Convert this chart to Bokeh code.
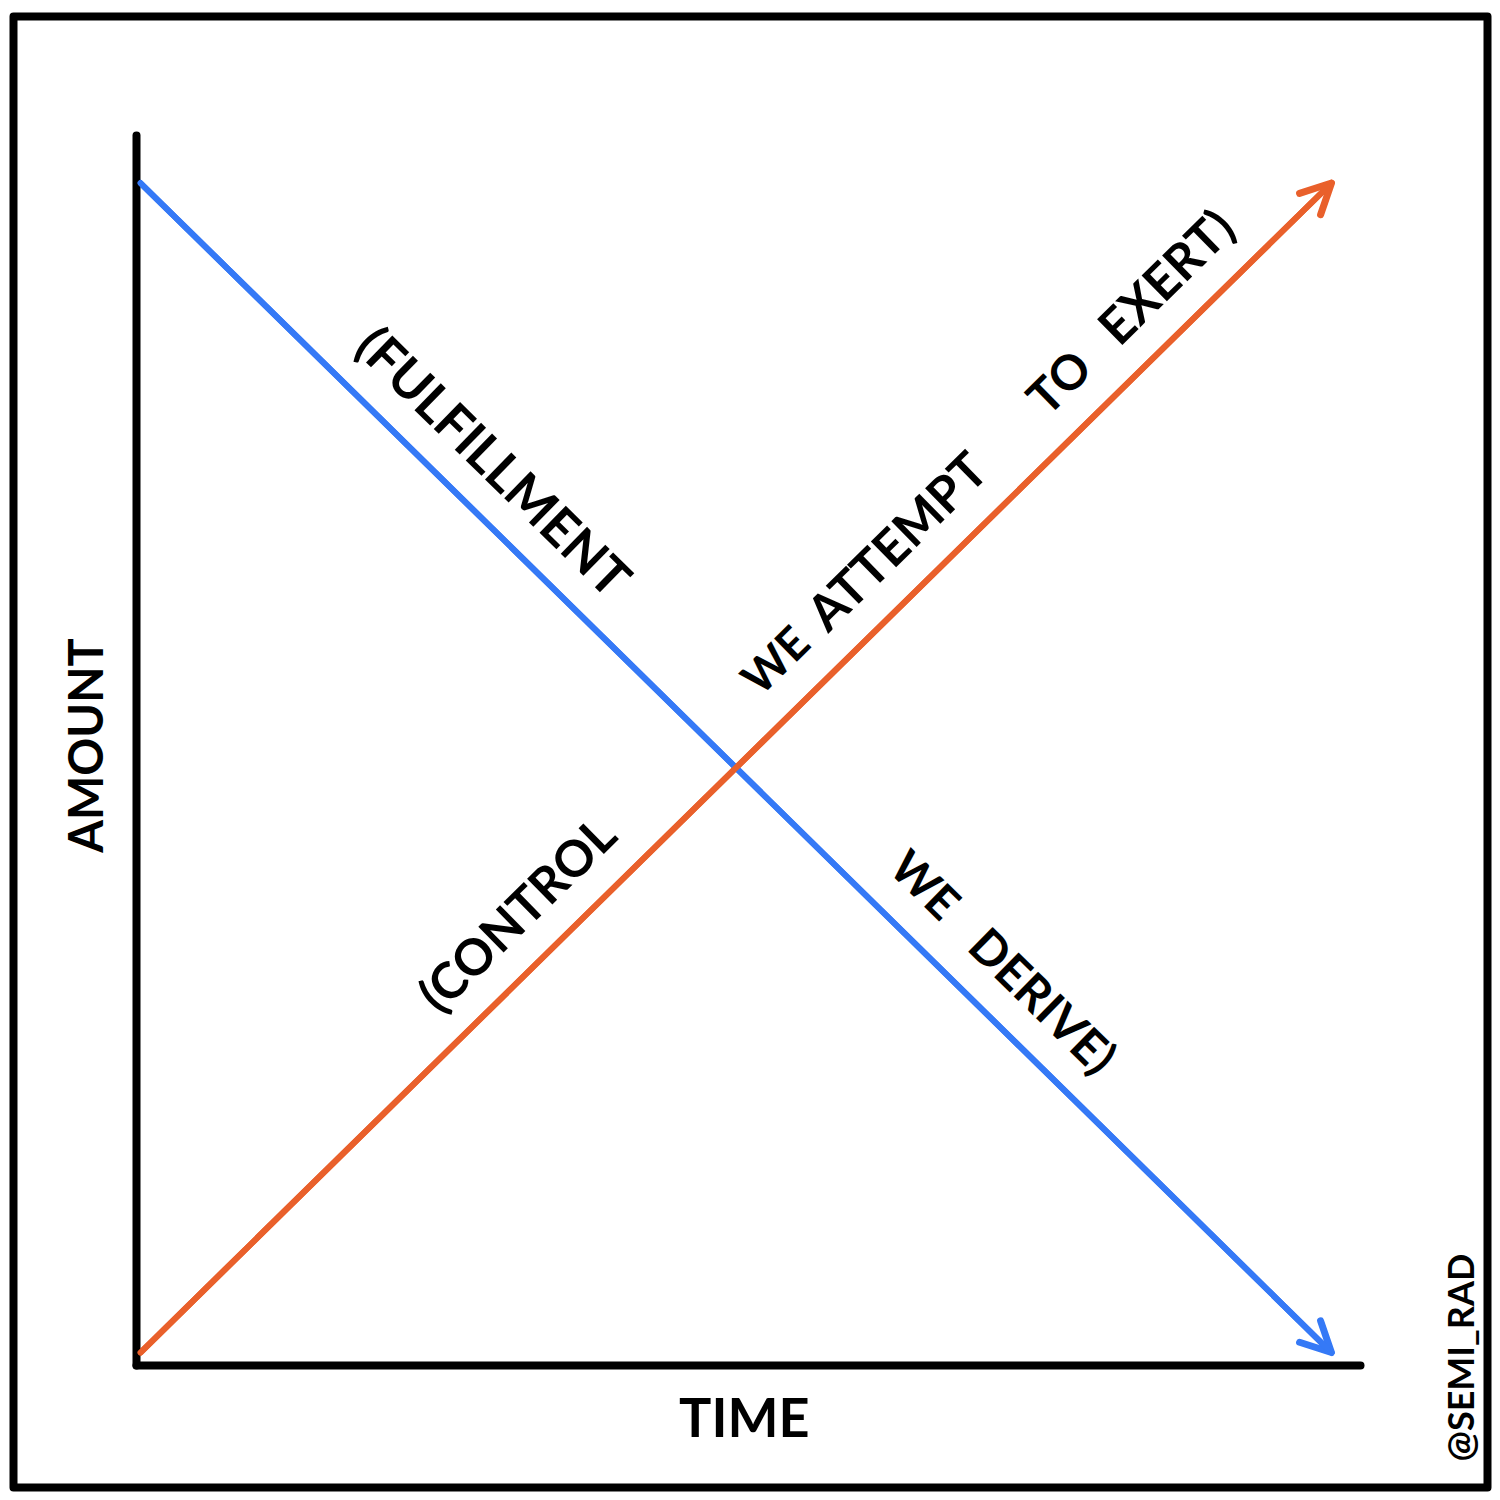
import numpy as np
from bokeh.plotting import figure
from bokeh.models import (LinearAxis, FixedTicker, Arrow, OpenHead, Label,
                          ColumnDataSource, Range1d)
from bokeh.core.properties import value
from bokeh.embed import file_html
from bokeh.resources import INLINE

# ---- data -------------------------------------------------------------
time = [0, 10]
fulfillment = [10, 0]
control = [0, 10]

blue_words = ["(FULFILLMENT", "WE", "DERIVE)"]
blue_word_pos = [0.268, 0.630, 0.729]          # fraction along the line (word centre)
orange_words = ["(CONTROL", "WE", "ATTEMPT", "TO", "EXERT)"]
orange_word_pos = [0.345, 0.562, 0.664, 0.800, 0.890]

y_label = "AMOUNT"
x_label = "TIME"
credit = "@SEMI_RAD"

# ---- style / layout ---------------------------------------------------
BLUE = "#3579F6"
ORANGE = "#E9602B"
FONT = "Lato"
blue_word_size = ["52px", "46px", "48px"]
orange_word_size = ["50px", "45px", "50px", "48px", "50px"]
W = H = 1492
BL, BR, BT, BB = 13, 5, 16, 5
XR = (-1.066, 11.310)
YR = (-1.154, 11.424)
SX = (W - BL - BR) / (XR[1] - XR[0])
SY = (H - BT - BB) / (YR[1] - YR[0])

p = figure(width=W, height=H, x_range=Range1d(*XR), y_range=Range1d(*YR),
           output_backend="svg", toolbar_location=None,
           x_axis_location=None, y_axis_location=None,
           min_border_left=BL, min_border_right=BR,
           min_border_top=BT, min_border_bottom=BB)
p.grid.grid_line_color = None
p.outline_line_color = "black"
p.outline_line_width = 8
p.outline_line_join = "round"
p.background_fill_color = "white"
p.border_fill_color = "white"

def make_axis(loc, bounds):
    return LinearAxis(fixed_location=loc, bounds=bounds,
                      ticker=FixedTicker(ticks=[]),
                      axis_line_color="black", axis_line_width=8,
                      axis_line_cap="round",
                      major_tick_line_color=None, minor_tick_line_color=None,
                      major_tick_out=0, major_tick_in=0,
                      major_label_text_font_size="0px",
                      major_label_standoff=0)

p.add_layout(make_axis(-0.034, (-0.11, 10.41)), "left")
p.add_layout(make_axis(-0.111, (-0.034, 10.243)), "below")

def draw_series(ys, color, words, pos, sizes):
    p.line(time, ys, line_color=color, line_width=6, line_cap="round")
    p.add_layout(Arrow(x_start=time[-2], y_start=ys[-2], x_end=time[-1], y_end=ys[-1],
                       line_color=color, line_width=6, line_cap="round",
                       end=OpenHead(size=30, line_color=color, line_width=7,
                                    line_cap="round", line_join="round")))
    dx = (time[-1] - time[0]) * SX
    dy = (ys[-1] - ys[0]) * SY
    L = np.hypot(dx, dy)
    ux, uy = dx / L, dy / L
    nx, ny = -uy, ux
    ang = np.arctan2(uy, ux)
    off = 50
    xs = [time[0] + f * (time[-1] - time[0]) + nx * off / SX for f in pos]
    yv = [ys[0] + f * (ys[-1] - ys[0]) + ny * off / SY for f in pos]
    src = ColumnDataSource(dict(x=xs, y=yv, text=words, size=sizes))
    p.text("x", "y", text="text", source=src, angle=ang,
           text_font=value(FONT), text_font_style="bold",
           text_font_size="size", text_color="black",
           text_align="center", text_baseline="middle")

draw_series(fulfillment, BLUE, blue_words, blue_word_pos, blue_word_size)
draw_series(control, ORANGE, orange_words, orange_word_pos, orange_word_size)

def add_label(x, y, text, size, angle=0):
    p.add_layout(Label(x=x, y=y, text=text, angle=angle, angle_units="deg",
                       text_font=FONT, text_font_style="bold", text_font_size=size,
                       text_align="center", text_baseline="middle", text_color="black"))

add_label(-0.462, 5.19, y_label, "47px", 90)
add_label(5.07, -0.547, x_label, "54px")
add_label(11.075, -0.043, credit, "36px", 90)

open("out.html", "w").write(file_html(p, INLINE))
